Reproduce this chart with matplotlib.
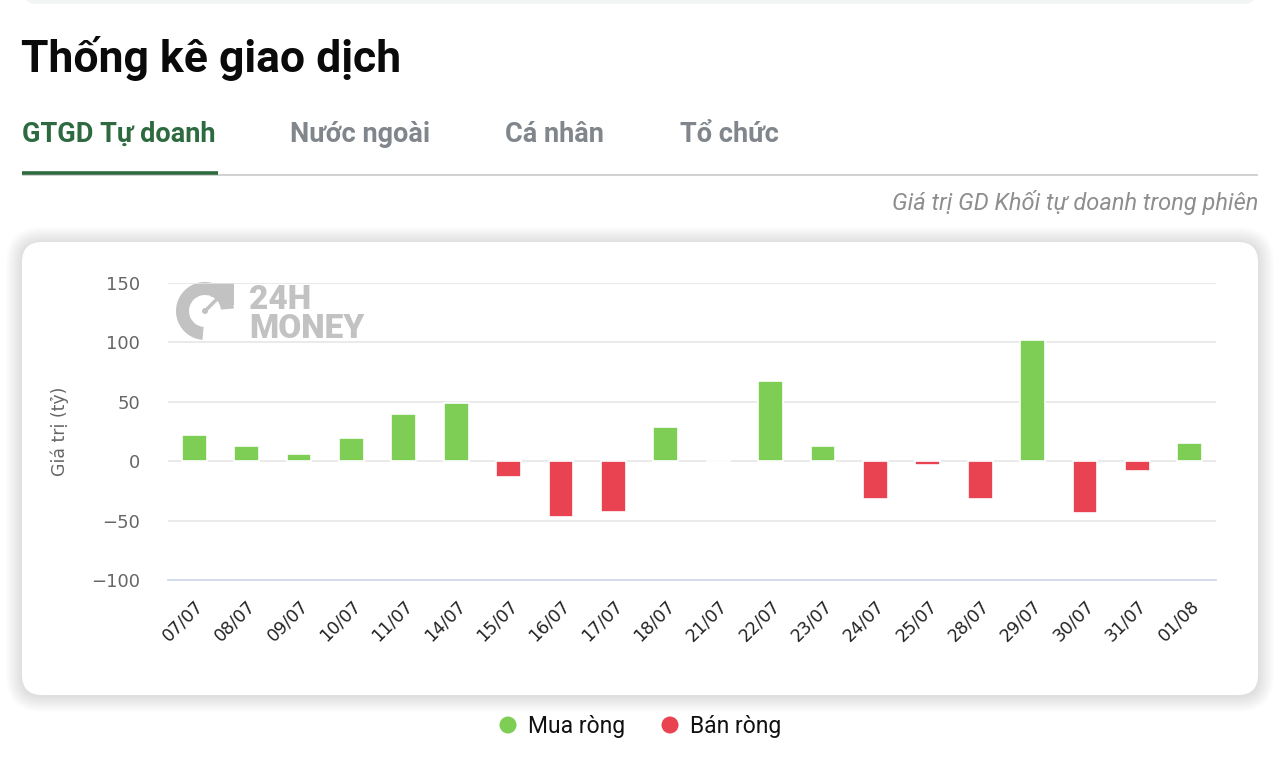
import matplotlib.pyplot as plt
import numpy as np
from matplotlib.patches import FancyBboxPatch, Circle, Wedge, Rectangle

# data
dates = ['07/07', '08/07', '09/07', '10/07', '11/07', '14/07', '15/07', '16/07', '17/07', '18/07',
         '21/07', '22/07', '23/07', '24/07', '25/07', '28/07', '29/07', '30/07', '31/07', '01/08']
values = [22, 13, 6, 19, 40, 49, -13, -47, -43, 29,
          0, 67, 13, -32, -3, -32, 102, -44, -8, 15]
y_ticks = [-100, -50, 0, 50, 100, 150]
tabs = ['GTGD Tự doanh', 'Nước ngoài', 'Cá nhân', 'Tổ chức']
tab_x = [22, 290, 505, 680]
legend_labels = ['Mua ròng', 'Bán ròng']

GREEN = '#7ecd55'
RED = '#e94352'

W, H = 1280, 764
fig = plt.figure(figsize=(W / 100, H / 100), dpi=100)
fig.patch.set_facecolor('white')

# background layer in pixel coordinates
bg = fig.add_axes([0, 0, 1, 1], zorder=0)
bg.set_xlim(0, W)
bg.set_ylim(H, 0)
bg.axis('off')

# top band (bottom of previous card)
bg.add_patch(FancyBboxPatch((25, -20), 1230, 24, boxstyle='round,pad=0,rounding_size=10',
                            fc='#f1f5f4', ec='none'))

# title
bg.text(21, 72, 'Thống kê giao dịch', fontsize=32, fontweight='bold', family='Roboto',
        color='#0a0a0a', va='baseline', ha='left')

# tabs
for i, (t, x) in enumerate(zip(tabs, tab_x)):
    bg.text(x, 142, t, fontsize=19.5, fontweight='bold', family='Roboto',
            color='#2d6a3f' if i == 0 else '#80868b', va='baseline', ha='left')
bg.plot([22, 1258], [175, 175], color='#c9c9c9', lw=1.2, solid_capstyle='butt')
bg.plot([22, 218], [173, 173], color='#2d6a3f', lw=2.6, solid_capstyle='butt')

bg.text(1258, 210, 'Giá trị GD Khối tự doanh trong phiên', fontsize=17, style='italic',
        family='Roboto', color='#8e8e8e', va='baseline', ha='right')

# card with soft shadow
for k in range(16, 0, -1):
    bg.add_patch(FancyBboxPatch((22 - k, 242 - k + 1), 1236 + 2 * k, 453 + 2 * k,
                                boxstyle='round,pad=0,rounding_size=%d' % (20 + k),
                                fc='#000000', ec='none', alpha=0.006))
bg.add_patch(FancyBboxPatch((22, 242), 1236, 453, boxstyle='round,pad=0,rounding_size=20',
                            fc='white', ec='none'))

# watermark logo
logo = '#c2c2c2'
bg.add_patch(Wedge((205, 311), 29, 95, 355, width=13, fc=logo, ec='none'))
bg.add_patch(Rectangle((211, 283), 23, 14, fc=logo, ec='none'))
bg.add_patch(Rectangle((220, 283), 14, 22, fc=logo, ec='none'))
bg.plot([205, 222], [311, 294], color=logo, lw=2.5)
bg.add_patch(Circle((205, 311), 3, fc=logo, ec='none'))
bg.text(249, 309, '24H', fontsize=24, fontweight='heavy', family='Roboto', color=logo,
        va='baseline', ha='left')
bg.text(249, 338, 'MONEY', fontsize=24, fontweight='heavy', family='Roboto', color=logo,
        va='baseline', ha='left')

# legend
for cx, lab, col in zip([508, 670], legend_labels, [GREEN, RED]):
    bg.add_patch(Circle((cx, 725), 8.5, fc=col, ec='none'))
    bg.text(cx + 20, 727, lab, fontsize=16.5, family='Roboto', color='#111111',
            va='center', ha='left')

# chart
x0, x1 = 168, 1216
y_top, y_bot = 282.7, 580
ax = fig.add_axes([x0 / W, 1 - y_bot / H, (x1 - x0) / W, (y_bot - y_top) / H], zorder=2)
ax.patch.set_alpha(0)

x = np.arange(len(dates))
colors = [GREEN if v >= 0 else RED for v in values]
ax.bar(x, values, width=0.47, color=colors, edgecolor='white', linewidth=1.2, zorder=3)

ax.set_xlim(-0.5, len(dates) - 0.5)
ax.set_ylim(-100, 150)
ax.set_yticks(y_ticks)
ax.set_yticklabels([str(v).replace('-', '−') for v in y_ticks])
ax.grid(axis='y', color='#e6e6e6', lw=1.2, zorder=0)
ax.set_axisbelow(True)
for s in ['top', 'right', 'left']:
    ax.spines[s].set_visible(False)
ax.spines['bottom'].set_color('#ccd6eb')
ax.spines['bottom'].set_linewidth(1.2)
ax.spines['bottom'].set_zorder(1)

ax.set_xticks(x)
ax.set_xticklabels(dates, rotation=45, ha='right', rotation_mode='anchor')
ax.tick_params(axis='x', length=0, pad=12, labelsize=12.5, labelcolor='#222222')
ax.tick_params(axis='y', length=0, pad=20, labelsize=13, labelcolor='#666666')
ax.set_ylabel('Giá trị (tỷ)', fontsize=12.5, color='#666666', labelpad=16)

fig.savefig('out.png', dpi=100, facecolor='white')
